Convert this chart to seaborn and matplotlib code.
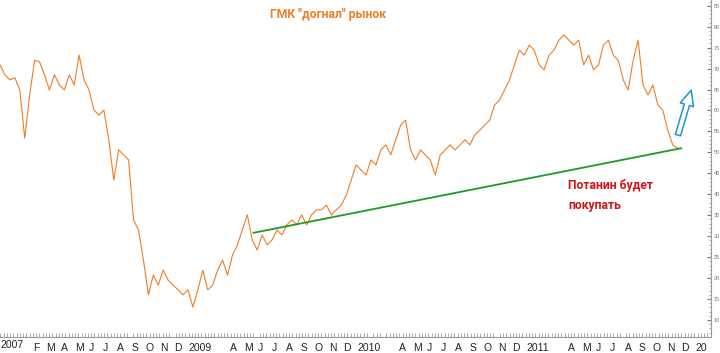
import pandas as pd
import numpy as np
import matplotlib
matplotlib.use("Agg")
import matplotlib.pyplot as plt
import matplotlib.dates as mdates
import matplotlib.transforms as mtransforms
import seaborn as sns

# GMK share price, roughly every 11 days
price = [70.9, 68.5, 67.3, 67.8, 64.9, 53.4, 63.7, 72.0, 71.6, 68.5,
         64.9, 68.5, 66.1, 64.9, 68.5, 66.1, 73.2, 67.3, 64.9, 60.1,
         58.9, 60.1, 53.0, 43.4, 50.6, 49.4, 48.2, 33.9, 31.5, 24.3,
         16.0, 20.7, 18.3, 21.9, 19.5, 18.3, 17.2, 16.0, 17.2, 13.1,
         17.2, 21.9, 17.2, 18.3, 21.9, 24.3, 20.7, 25.5, 27.9, 31.5,
         35.1, 29.1, 26.7, 30.3, 27.9, 29.1, 31.5, 30.3, 32.7, 33.9,
         32.7, 35.1, 32.7, 35.1, 36.3, 36.3, 37.4, 35.1, 36.3, 37.4,
         39.8, 43.4, 47.0, 45.8, 44.6, 48.2, 47.0, 50.6, 51.8, 49.4,
         53.0, 56.5, 57.7, 50.6, 48.2, 50.6, 49.4, 48.2, 44.6, 49.4,
         50.6, 51.8, 50.6, 51.8, 53.0, 51.8, 54.2, 55.3, 56.5, 57.7,
         61.3, 62.5, 64.9, 67.3, 70.9, 74.4, 73.2, 75.6, 74.4, 70.9,
         69.7, 73.2, 74.4, 76.8, 78.0, 76.8, 75.6, 76.8, 70.9, 73.2,
         69.7, 70.9, 75.6, 76.8, 73.2, 72.0, 67.3, 64.9, 72.0, 76.8,
         66.1, 63.7, 66.1, 61.3, 60.1, 55.3, 51.8, 51.0]
dates = pd.date_range("2007-11-25", "2011-11-27", periods=len(price))

# support line
trend_dates = pd.to_datetime(["2009-05-25", "2011-12-05"])
trend_values = [30.8, 51.0]

month_labels = ["", "F", "M", "A", "M", "J", "J", "A", "S", "O", "N", "D",
                "2009", "", "", "A", "M", "J", "J", "A", "S", "O", "N", "D",
                "2010", "", "", "A", "M", "J", "J", "A", "S", "O", "N", "D",
                "2011", "", "", "A", "M", "J", "J", "A", "S", "O", "N", "D",
                "20"]
month_ticks = pd.date_range("2008-01-01", periods=len(month_labels), freq="MS")

df = pd.DataFrame({"date": dates, "price": price})
df_trend = pd.DataFrame({"date": trend_dates, "price": trend_values})

sns.set_style("white")
plt.rcParams["font.family"] = ["Liberation Sans", "DejaVu Sans"]

fig = plt.figure(figsize=(7.2, 3.53), dpi=100)
ax = fig.add_axes([0, 16 / 353, 711 / 720, 337 / 353])

sns.lineplot(data=df, x="date", y="price", ax=ax, color="#f07d23", linewidth=0.8)
sns.lineplot(data=df_trend, x="date", y="price", ax=ax, color="#1f9a2a", linewidth=1.3)

ax.set_xlim(pd.Timestamp("2007-11-25"), pd.Timestamp("2012-02-07"))
ax.set_ylim(5.94, 86.37)
ax.set_xlabel("")
ax.set_ylabel("")

# x axis: month ticks, labels sit just right of each tick
ax.set_xticks(month_ticks)
ax.set_xticklabels(month_labels, ha="left", fontsize=7.5, color="#222222")
ax.xaxis.set_minor_locator(mdates.WeekdayLocator(byweekday=0))
ax.tick_params(axis="x", which="major", length=13, direction="out", width=0.6,
               color="#888888", pad=-9)
ax.tick_params(axis="x", which="minor", length=3, direction="in", width=0.5,
               color="#888888", top=False, bottom=True)
offset = mtransforms.ScaledTranslation(1.5 / 100, 0, fig.dpi_scale_trans)
for lbl in ax.get_xticklabels():
    lbl.set_transform(lbl.get_transform() + offset)
fig.text(0.0, 3 / 353, "2007", fontsize=7.5, color="#222222", ha="left", va="bottom")

# y axis on the right, mostly cut off by the figure edge
ax.yaxis.tick_right()
ax.set_yticks(np.arange(10, 90, 5))
ax.set_yticks(np.arange(6, 87, 1), minor=True)
ax.tick_params(axis="y", which="major", length=3, direction="in", labelsize=4,
               colors="#777777", pad=2)
ax.tick_params(axis="y", which="minor", length=1.5, direction="in", color="#999999")

for side in ["left", "top"]:
    ax.spines[side].set_visible(False)
for side in ["right", "bottom"]:
    ax.spines[side].set_color("#999999")
    ax.spines[side].set_linewidth(0.8)

# annotations
ax.text(pd.Timestamp("2009-11-03"), 82.8, 'ГМК "догнал" рынок', fontsize=8.7,
        fontweight="bold", color="#f07d23", ha="center", va="center",
        family=["Roboto", "DejaVu Sans"])
ax.text(pd.Timestamp("2011-04-05"), 39.8, "Потанин будет\nпокупать", fontsize=8.7,
        fontweight="bold", color="#d0141c", ha="left", va="center", linespacing=1.7,
        family=["Roboto", "DejaVu Sans"])
ax.annotate("", xy=(pd.Timestamp("2011-12-28"), 65.5),
            xytext=(pd.Timestamp("2011-11-26"), 53.5),
            arrowprops=dict(arrowstyle="simple,head_length=1.0,head_width=0.9,tail_width=0.35",
                            fc="none", ec="#1e96d8", lw=1.1, mutation_scale=11))

fig.savefig("out.png", dpi=100)
